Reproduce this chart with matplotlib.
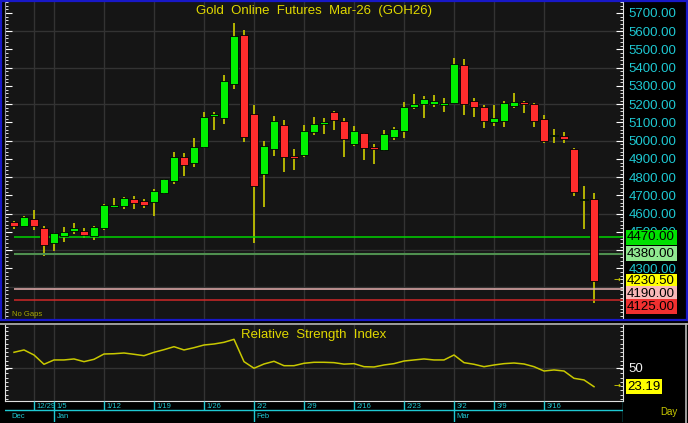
import numpy as np
import matplotlib.pyplot as plt
from matplotlib.patches import Rectangle
from matplotlib.lines import Line2D
from matplotlib.ticker import MultipleLocator, FixedLocator, FormatStrFormatter

# daily OHLC, Gold Online Futures Mar-26
opens = [4553, 4534, 4570, 4520, 4439, 4476, 4507, 4507, 4476, 4523,
         4638, 4644, 4682, 4668, 4664, 4713, 4779, 4911, 4879, 4967,
         5135, 5124, 5310, 5579, 5146, 4818, 4953, 5086, 4914, 4921,
         5047, 5090, 5157, 5108, 4983, 5040, 4964, 4949, 5018, 5053,
         5183, 5203, 5203, 5197, 5208, 5415, 5216, 5187, 5102, 5108,
         5192, 5212, 5201, 5117, 5026, 5026, 4956, 4673, 4682]
highs = [4560, 4585, 4618, 4532, 4495, 4527, 4547, 4521, 4532, 4655,
         4684, 4693, 4697, 4679, 4733, 4790, 4938, 4932, 5016, 5157,
         5157, 5360, 5646, 5606, 5195, 4998, 5137, 5112, 4953, 5086,
         5128, 5123, 5164, 5126, 5080, 5042, 4982, 5057, 5076, 5214,
         5254, 5245, 5252, 5234, 5453, 5446, 5232, 5195, 5195, 5218,
         5261, 5217, 5206, 5141, 5064, 5047, 4958, 4751, 4713]
lows = [4514, 4532, 4512, 4368, 4397, 4446, 4488, 4466, 4457, 4512,
        4629, 4627, 4627, 4633, 4589, 4708, 4764, 4806, 4857, 4962,
        5057, 5093, 5283, 4991, 4441, 4638, 4918, 4827, 4838, 4912,
        5033, 5036, 5058, 4912, 4972, 4892, 4872, 4945, 5004, 5016,
        5172, 5122, 5187, 5157, 5205, 5141, 5132, 5071, 5082, 5076,
        5177, 5152, 5077, 4987, 4987, 4987, 4697, 4514, 4110]
closes = [4534, 4580, 4534, 4430, 4492, 4501, 4521, 4483, 4526, 4646,
          4647, 4688, 4658, 4647, 4723, 4788, 4911, 4865, 4966, 5130,
          5146, 5325, 5575, 5018, 4754, 4972, 5108, 4913, 4907, 5053,
          5091, 5102, 5113, 5009, 5051, 4960, 4954, 5035, 5064, 5183,
          5203, 5227, 5217, 5208, 5420, 5203, 5183, 5108, 5126, 5206,
          5212, 5203, 5108, 4998, 5033, 5007, 4719, 4682, 4230.50]
rsi = [71.7, 75.0, 67.9, 54.8, 60.9, 60.9, 62.3, 58.5, 61.8, 69.3,
       69.7, 70.7, 68.9, 66.9, 71.7, 75.4, 79.6, 75.0, 78.2, 82.0,
       83.4, 85.8, 90.0, 58.5, 49.2, 55.2, 59.0, 52.8, 52.8, 56.2,
       57.6, 57.6, 57.1, 55.0, 55.7, 51.4, 51.0, 53.8, 55.7, 59.4,
       60.9, 62.3, 60.9, 60.9, 67.9, 57.1, 54.8, 51.4, 53.8, 55.7,
       56.6, 55.2, 51.4, 45.3, 46.8, 45.3, 35.0, 32.7, 23.19]

date_idx = [2, 4, 9, 14, 19, 24, 29, 34, 39, 44, 48, 53]
date_labels = ['12/29', '1/5', '1/12', '1/19', '1/26', '2/2', '2/9',
               '2/16', '2/23', '3/2', '3/9', '3/16']
month_idx = [4, 24, 44]
month_labels = ['Jan', 'Feb', 'Mar']

levels = [4470.00, 4380.00, 4190.00, 4125.00]
level_line_colors = ['#00d400', '#4f8f4f', '#e8b0b0', '#d02828']
level_box_colors = ['#00e000', '#90e890', '#f8b8b8', '#f03030']
last_price = closes[-1]

W, H = 688, 423
BG = '#151515'
GRID = '#333333'
CYAN = '#1ec8d2'
WICK = '#c0c000'


def box(x0, y0, x1, y1):
    # pixel box (top-left origin) -> figure fraction rect
    return [x0 / W, 1 - y1 / H, (x1 - x0) / W, (y1 - y0) / H]


def main():
    plt.rcParams['font.family'] = ['Liberation Sans', 'DejaVu Sans']
    fig = plt.figure(figsize=(W / 100, H / 100), dpi=100, facecolor='black')

    ax = fig.add_axes(box(5, 2, 623, 319), facecolor=BG)
    ax_rsi = fig.add_axes(box(5, 325, 623, 401), facecolor=BG)
    ax_d = fig.add_axes(box(5, 401, 623, 422), facecolor='black')

    n = len(closes)
    x = np.arange(n)
    o = np.array(opens, float)
    c = np.array(closes, float)
    up = c >= o

    # ---- price pane ----
    ax.set_xlim(-0.9, 60.9)
    ax.set_ylim(4023, 5760)
    ax.set_xticks([])

    ax.vlines(x, lows, highs, color=WICK, lw=1.3, zorder=2)
    bottoms = np.minimum(o, c)
    heights = np.maximum(np.abs(c - o), 7)
    cols = np.where(up, '#00f000', '#ff2c2c')
    ax.bar(x, heights, bottom=bottoms, width=0.75, color=cols,
           edgecolor='black', linewidth=0.6, zorder=3)

    for lv, lc in zip(levels, level_line_colors):
        ax.hlines(lv, 0, 60.9, color=lc, lw=1.5 if lc == '#4f8f4f' else 1.1, zorder=2.6)

    ax.text(0.5, 1 - 9 / 317, 'Gold  Online  Futures  Mar-26  (GOH26)',
            transform=ax.transAxes, ha='center', va='center',
            color='#e0d800', fontsize=9.5)
    ax.text(0.012, 0.004, 'No Gaps', transform=ax.transAxes, ha='left',
            va='bottom', color='#a8a800', fontsize=5.5)

    # right price scale (4200/4100 sit fully under the tag boxes)
    ax.yaxis.tick_right()
    ax.yaxis.set_major_locator(FixedLocator(np.arange(4300, 5701, 100)))
    ax.yaxis.set_minor_locator(MultipleLocator(20))
    ax.yaxis.set_major_formatter(FormatStrFormatter('%.2f'))
    ax.tick_params(axis='y', which='both', direction='in', colors='white',
                   left=True, right=True, labelcolor=CYAN, labelsize=9.5, pad=4)
    ax.tick_params(axis='y', which='major', length=5)
    ax.tick_params(axis='y', which='minor', length=2.5)
    for yv in np.arange(4200, 5601, 200):
        ax.axhline(yv, color=GRID, lw=1.0, zorder=0.5)
    for xv in date_idx:
        ax.axvline(xv, color=GRID, lw=1.0, zorder=0.5)
    for s in ['top', 'bottom']:
        ax.spines[s].set_visible(False)
    ax.spines['left'].set_color('#9090a0')
    ax.spines['right'].set_color('#e0e0e0')

    # label boxes, pushed apart when they would overlap
    ppu = (317 / (5760 - 4023))
    tags = [(levels[0], level_box_colors[0]), (levels[1], level_box_colors[1]),
            (last_price, '#ffff00'), (levels[2], level_box_colors[2]),
            (levels[3], level_box_colors[3])]
    prev = None
    for val, col in tags:
        pos = val
        if prev is not None and (prev - pos) * ppu < 12.8:
            pos = prev - 12.8 / ppu
        prev = pos
        off = (pos - val) * ppu / 1.389
        ax.annotate(f'{val:.2f}', xy=(1, val), xycoords=('axes fraction', 'data'),
                    xytext=(3, off), textcoords='offset points', ha='left',
                    va='center', fontsize=9.5, color='black', zorder=10,
                    annotation_clip=False,
                    bbox=dict(boxstyle='square,pad=0.12', fc=col, ec='none'))
    ax.annotate('\u2192', xy=(1, last_price), xycoords=('axes fraction', 'data'),
                xytext=(-4, 1), textcoords='offset points', ha='center',
                va='center', fontsize=6, color='#e8e800', family='DejaVu Sans',
                annotation_clip=False)

    # ---- RSI pane ----
    ax_rsi.set_xlim(-0.9, 60.9)
    ax_rsi.set_ylim(3.0, 110.2)
    ax_rsi.plot(x, rsi, color='#c8c800', lw=1.1)
    ax_rsi.axhline(50, color=GRID, lw=1.0, zorder=0.5)
    for xv in date_idx:
        ax_rsi.axvline(xv, color=GRID, lw=1.0, zorder=0.5)
    ax_rsi.text(0.5, 1 - 10 / 76, 'Relative  Strength  Index',
                transform=ax_rsi.transAxes, ha='center', va='center',
                color='#e0d800', fontsize=9.5)
    ax_rsi.yaxis.tick_right()
    ax_rsi.yaxis.set_major_locator(FixedLocator([50]))
    ax_rsi.yaxis.set_minor_locator(MultipleLocator(6))
    ax_rsi.tick_params(axis='y', which='both', direction='in', colors='white',
                       left=True, right=True, labelcolor='#f0f0f0',
                       labelsize=9.5, pad=4)
    ax_rsi.tick_params(axis='y', which='major', length=5)
    ax_rsi.tick_params(axis='y', which='minor', length=2.5)
    ax_rsi.set_xticks([])
    ax_rsi.spines['top'].set_visible(False)
    ax_rsi.spines['left'].set_color('#e0e0e0')
    ax_rsi.spines['bottom'].set_color('#e0e0e0')
    ax_rsi.spines['right'].set_color('#e0e0e0')
    ax_rsi.annotate(f'{rsi[-1]:.2f}', xy=(1, rsi[-1]),
                    xycoords=('axes fraction', 'data'), xytext=(3, 0),
                    textcoords='offset points', ha='left', va='center',
                    fontsize=9.5, color='black', annotation_clip=False,
                    bbox=dict(boxstyle='square,pad=0.12', fc='#ffff00', ec='none'))
    ax_rsi.annotate('\u2192', xy=(1, rsi[-1]), xycoords=('axes fraction', 'data'),
                    xytext=(-4, 1), textcoords='offset points', ha='center',
                    va='center', fontsize=6, color='#e8e800', family='DejaVu Sans',
                    annotation_clip=False)

    # ---- date scale ----
    ax_d.set_xlim(-0.9, 60.9)
    ax_d.set_ylim(0, 1)
    ax_d.axis('off')
    ax_d.axhline(0.55, color=CYAN, lw=1.0)
    ax_d.vlines(date_idx, 0.55, 1, color=CYAN, lw=1.0)
    ax_d.vlines(month_idx, 0, 0.55, color=CYAN, lw=1.0)
    ax_d.axvline(60.9, color=CYAN, lw=1.0)
    for xi, lab in zip(date_idx, date_labels):
        ax_d.text(xi + 0.25, 0.76, lab, ha='left', va='center',
                  color=CYAN, fontsize=5.5)
    ax_d.text(-0.25, 0.25, 'Dec', ha='left', va='center', color=CYAN, fontsize=5.5)
    for xi, lab in zip(month_idx, month_labels):
        ax_d.text(xi + 0.25, 0.25, lab, ha='left', va='center',
                  color=CYAN, fontsize=5.5)
    fig.text(660 / W, 1 - 412 / H, 'Day', ha='left', va='center',
             color='#c8c800', fontsize=7)

    # pane frames
    fig.add_artist(Rectangle((1 / W, 1 - 320 / H), 686 / W, 319 / H,
                             transform=fig.transFigure, fill=False,
                             ec='#1818c8', lw=1.6))
    fig.add_artist(Line2D([0, 1], [1 - 323.5 / H] * 2, transform=fig.transFigure,
                          color='#b8b8b8', lw=1.2))
    fig.add_artist(Line2D([686 / W] * 2, [1 - 323.5 / H, 0],
                          transform=fig.transFigure, color='#b8b8b8', lw=1.2))

    fig.savefig('out.png', dpi=100, facecolor='black')


if __name__ == "__main__":
    main()
